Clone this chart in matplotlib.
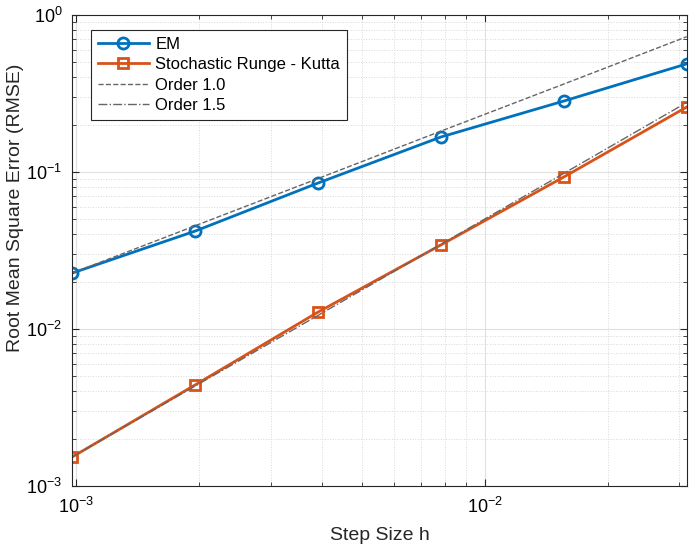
import numpy as np
import matplotlib.pyplot as plt

plt.rcParams['font.family'] = ['Liberation Sans', 'DejaVu Sans']

h = [2**-10, 2**-9, 2**-8, 2**-7, 2**-6, 2**-5]
em_rmse = [0.0227, 0.042, 0.085, 0.167, 0.283, 0.488]
srk_rmse = [0.00153, 0.0044, 0.0128, 0.0343, 0.0929, 0.259]
order1 = [0.0227, 0.0454, 0.0908, 0.182, 0.363, 0.727]
order15 = [0.00153, 0.00433, 0.0122, 0.0346, 0.0979, 0.277]

fig = plt.figure(figsize=(7, 5.54), dpi=100)
ax = fig.add_axes([0.103, 0.1227, 0.878, 0.8503])

ax.loglog(h, em_rmse, '-o', color='#0072BD', lw=2, ms=8, mfc='none', mew=2, label='EM')
ax.loglog(h, srk_rmse, '-s', color='#D95319', lw=2, ms=7, mfc='none', mew=2,
          label='Stochastic Runge - Kutta')
ax.loglog(h, order1, '--', color='#666666', lw=1, label='Order 1.0')
ax.loglog(h, order15, '-.', color='#666666', lw=1, label='Order 1.5')

ax.set_xlim(2**-10, 2**-5)
ax.set_ylim(1e-3, 1)
ax.grid(True, which='major', color='#e0e0e0', lw=0.8, ls='-')
ax.grid(True, which='minor', color='#d8d8d8', lw=0.7, ls=':')
ax.set_axisbelow(True)
ax.tick_params(which='both', direction='in', top=True, right=True, labelsize=13, color='#262626')
ax.tick_params(axis='x', which='major', pad=8)
ax.tick_params(axis='y', which='major', pad=7)
ax.tick_params(which='major', length=5)
ax.tick_params(which='minor', length=3)
for s in ax.spines.values():
    s.set_color('#262626')
    s.set_linewidth(0.8)

ax.set_xlabel('Step Size h', fontsize=14, color='#262626', labelpad=7)
ax.set_ylabel('Root Mean Square Error (RMSE)', fontsize=14, color='#262626')
ax.yaxis.set_label_coords(-0.078, 0.59)

leg = ax.legend(loc='upper left', bbox_to_anchor=(0.031, 0.968), fontsize=12, fancybox=False,
                edgecolor='#262626', framealpha=1, handlelength=3.05, borderpad=0.4,
                labelspacing=0.33, handletextpad=0.4, borderaxespad=0)
leg.get_frame().set_linewidth(0.8)

plt.savefig('out.png', dpi=100)
